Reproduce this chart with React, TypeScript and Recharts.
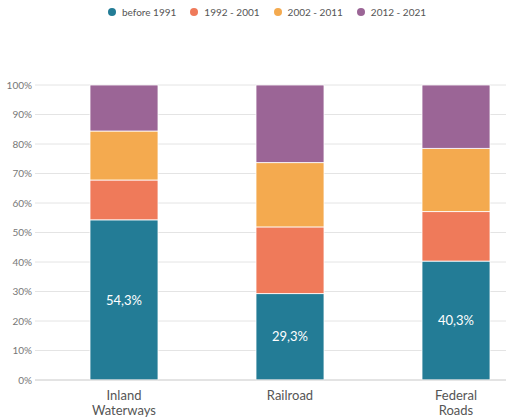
import * as React from 'react';
import { Bar, BarChart, CartesianGrid, LabelList, XAxis, YAxis } from 'recharts';

const categories = ['Inland Waterways', 'Railroad', 'Federal Roads'];
const before1991 = [54.3, 29.3, 40.3];
const from1992 = [13.5, 22.6, 16.8];
const from2002 = [16.6, 21.8, 21.4];
const from2012 = [15.6, 26.3, 21.5];
const yTicks = [0, 10, 20, 30, 40, 50, 60, 70, 80, 90, 100];

const series = [
  { key: 'before1991', name: 'before 1991', color: '#237c96', values: before1991 },
  { key: 'from1992', name: '1992 - 2001', color: '#ef7a5a', values: from1992 },
  { key: 'from2002', name: '2002 - 2011', color: '#f4aa4f', values: from2002 },
  { key: 'from2012', name: '2012 - 2021', color: '#9b6596', values: from2012 },
];

const data = categories.map((name, i) => {
  const row: Record<string, string | number> = { name };
  series.forEach((s) => (row[s.key] = s.values[i]));
  return row;
});

const font = 'Lato, "Open Sans", sans-serif';

function CategoryTick({ x, y, payload }: any) {
  const lines = String(payload.value).split(' ');
  return (
    <text x={x} y={y} textAnchor="middle" fill="#555" fontSize={13} fontFamily={font}>
      {lines.map((l, i) => (
        <tspan key={i} x={x} dy={i === 0 ? 12 : 15}>
          {l}
        </tspan>
      ))}
    </text>
  );
}

export default function App() {
  return (
    <div style={{ position: 'absolute', left: 0, top: 0, width: 506, height: 418, overflow: 'hidden', background: '#fff', fontFamily: font }}>
      <div style={{ position: 'absolute', top: 6, left: 108, display: 'flex' }}>
        {series.map((s) => (
          <div key={s.key} style={{ display: 'flex', alignItems: 'center', marginRight: 14, fontSize: 10, color: '#555' }}>
            <span style={{ width: 8, height: 8, borderRadius: 4, background: s.color, marginRight: 6, display: 'inline-block' }} />
            {s.name}
          </div>
        ))}
      </div>
      <BarChart width={540} height={418} data={data} margin={{ top: 85, right: 1, bottom: 3, left: 0 }} barCategoryGap={49}>
        <CartesianGrid vertical={false} stroke="#e4e4e4" />
        <XAxis
          dataKey="name"
          height={35}
          axisLine={{ stroke: '#d6d6d6' }}
          tickLine={false}
          padding={{ left: 6, right: 0 }}
          interval={0}
          tick={<CategoryTick />}
        />
        <YAxis
          width={35}
          domain={[0, 100]}
          ticks={yTicks}
          axisLine={false}
          tickLine={false}
          tickSize={0}
          tickMargin={3}
          tickFormatter={(v: number) => `${v}%`}
          tick={{ fontSize: 10, fill: '#777', fontFamily: font }}
        />
        {series.map((s, i) => (
          <Bar key={s.key} dataKey={s.key} name={s.name} stackId="a" fill={s.color} stroke="#ffffff" strokeWidth={0.8} isAnimationActive={false}>
            {i === 0 && (
              <LabelList
                dataKey={s.key}
                position="center"
                fill="#fff"
                fontSize={13}
                fontFamily={font}
                formatter={(v: any) => `${String(v).replace('.', ',')}%`}
              />
            )}
          </Bar>
        ))}
      </BarChart>
    </div>
  );
}
